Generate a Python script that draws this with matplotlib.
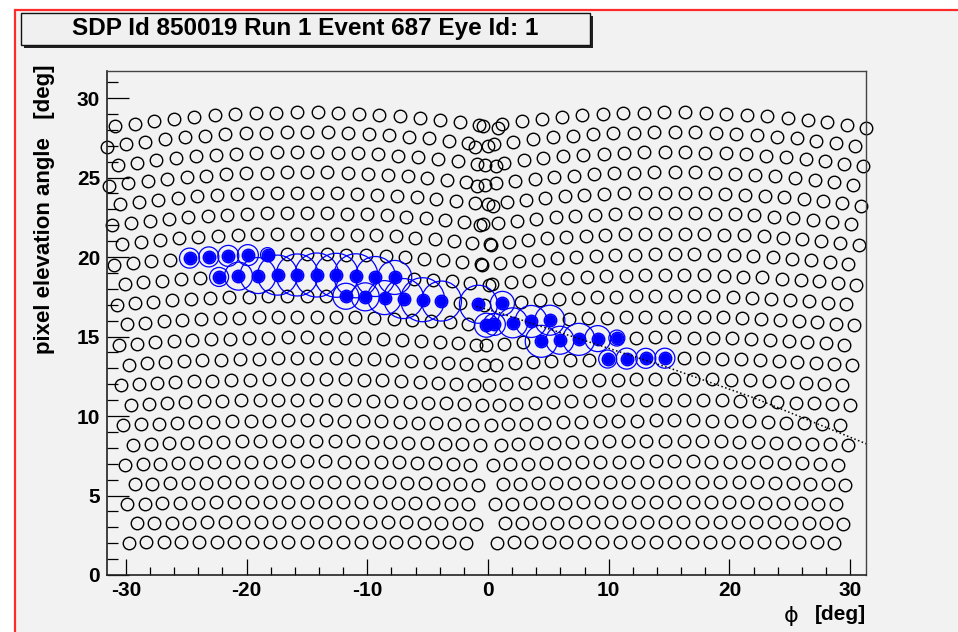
import numpy as np
import matplotlib
matplotlib.use("Agg")
import matplotlib.pyplot as plt
from matplotlib.patches import Rectangle
from matplotlib.ticker import MultipleLocator

plt.rcParams['axes.unicode_minus'] = False
FONT = ['Liberation Sans', 'DejaVu Sans']

# ---- camera geometry (degrees) ----
n_rows, n_cols = 22, 20
pixel_pitch = 1.54               # horizontal spacing of pixel centres
row_pitch = 1.31                 # vertical spacing of pixel rows
camera_phi = [-15.4, 15.05]      # azimuth of the two camera axes
camera_elev = 15.6               # elevation of the camera axes

# ---- hit pixels: camera (0 = left, 1 = right), row, column, signal ----
hit_cam = [0, 0, 0, 0, 0,
           0, 0, 0, 0, 0, 0, 0, 0, 0, 0,
           0, 0, 0, 0, 0, 0, 0,
           0,
           1,
           1, 1, 1, 1,
           1, 1, 1, 1, 1,
           1, 1, 1, 1]
hit_row = [14, 14, 14, 14, 14,
           13, 13, 13, 13, 13, 13, 13, 13, 13, 13,
           12, 12, 12, 12, 12, 12, 12,
           11,
           12,
           11, 11, 11, 11,
           10, 10, 10, 10, 10,
           9, 9, 9, 9]
hit_col = [4, 5, 6, 7, 8,
           5, 6, 7, 8, 9, 10, 11, 12, 13, 14,
           12, 13, 14, 15, 16, 17, 19,
           19,
           1,
           0, 1, 2, 3,
           3, 4, 5, 6, 7,
           6, 7, 8, 9]
hit_signal = [100, 100, 105, 105, 70,
              95, 140, 180, 200, 210, 220, 220, 220, 200, 170,
              130, 140, 170, 200, 220, 200, 190,
              120,
              120,
              110, 150, 160, 150,
              160, 140, 160, 130, 80,
              90, 105, 100, 100]

# ---- shower-detector-plane track ----
track_phi = [-1.0, 0.9, 15.1, 22.0, 31.34]
track_elev = [16.9, 16.5, 13.0, 11.15, 8.25]

title = "SDP Id 850019 Run 1 Event 687 Eye Id: 1"


def camera_pixels(axis_phi):
    """Pixel centres of a hexagonal camera, projected to (phi, elevation)."""
    d = np.tan(np.radians(pixel_pitch))
    dy = np.tan(np.radians(row_pitch))
    rows = np.arange(n_rows)[:, None]
    cols = np.arange(n_cols)[None, :]
    shift = np.where(rows % 2 == 0, -0.25, 0.25)
    u = (cols - (n_cols - 1) / 2 + shift) * d
    v = (rows - (n_rows - 1) / 2) * dy * np.ones_like(u)
    e0 = np.radians(camera_elev)
    fwd = np.cos(e0) - v * np.sin(e0)
    up = np.sin(e0) + v * np.cos(e0)
    phi = axis_phi + np.degrees(np.arctan2(u, fwd))
    elev = np.degrees(np.arctan2(up, np.hypot(fwd, u)))
    return phi, elev


cams = [camera_pixels(c) for c in camera_phi]

W, H = 958, 632
fig = plt.figure(figsize=(W / 100, H / 100), dpi=100, facecolor='white')
BG = '#f2f2f2'

# canvas with red outline
fig.patches.append(Rectangle((15 / W, -0.2), 1.2, 1.2 - 10 / H, transform=fig.transFigure,
                             facecolor=BG, edgecolor='#ff2a2a', linewidth=1.6, zorder=-10))

ax = fig.add_axes([107 / W, 1 - 575 / H, (866 - 107) / W, (575 - 71) / H], zorder=1)
ax.set_facecolor(BG)

all_phi = np.concatenate([c[0].ravel() for c in cams])
ax.set_xlim(all_phi.min(), all_phi.max())
ax.set_ylim(0, 31.7)

hit_set = set(zip(hit_cam, hit_row, hit_col))
px_phi, px_el = [], []
for ci, (p, e) in enumerate(cams):
    for r in range(n_rows):
        for c in range(n_cols):
            if (ci, r, c) not in hit_set:
                px_phi.append(p[r, c])
                px_el.append(e[r, c])

ax.plot(px_phi, px_el, 'o', ms=9.0, mfc='none', mec='black', mew=1.0,
        clip_on=False, zorder=2)

h_phi = np.array([cams[c][0][r, k] for c, r, k in zip(hit_cam, hit_row, hit_col)])
h_el = np.array([cams[c][1][r, k] for c, r, k in zip(hit_cam, hit_row, hit_col)])
sig = np.array(hit_signal, dtype=float)

# signal rings: radius in pixels = signal / 10
ring_pt = 2 * (sig / 10.0) * 72 / 100
ax.scatter(h_phi, h_el, s=ring_pt ** 2, facecolors='none', edgecolors='#0000ff',
           linewidths=0.9, zorder=3)
ax.plot(h_phi, h_el, 'o', ms=9.0, mfc='none', mec='#0000ff', mew=1.0, zorder=3)
ax.plot(h_phi, h_el, 'o', ms=7.8, mfc='#0000ff', mec='#0000ff', mew=0.5, zorder=4)

# track
ax.plot(track_phi, track_elev, color='black', lw=1.1, ls=(0, (1, 1.6)), zorder=5)

# axes styling
ax.xaxis.set_major_locator(MultipleLocator(10))
ax.xaxis.set_minor_locator(MultipleLocator(2))
ax.yaxis.set_major_locator(MultipleLocator(5))
ax.yaxis.set_minor_locator(MultipleLocator(1))
ax.tick_params(axis='x', which='major', direction='in', length=11.5, width=0.9, pad=4,
               top=False, labelsize=15)
ax.tick_params(axis='x', which='minor', direction='in', length=5.8, width=0.9, top=False)
ax.tick_params(axis='y', which='major', direction='in', length=16, width=0.9, pad=5,
               right=False, labelsize=15)
ax.tick_params(axis='y', which='minor', direction='in', length=8, width=0.9, right=False)
for lab in ax.get_xticklabels() + ax.get_yticklabels():
    lab.set_family(FONT)
    lab.set_fontweight('bold')
for side in ('left', 'bottom'):
    ax.spines[side].set_linewidth(1.2)
    ax.spines[side].set_color('#222222')
for side in ('top', 'right'):
    ax.spines[side].set_linewidth(1.0)
    ax.spines[side].set_color('#444444')

fig.text(45 / W, 1 - 65 / H, 'pixel elevation angle   [deg]', rotation=90,
         ha='center', va='top', fontsize=16, fontweight='bold', family=FONT)
fig.text(866 / W, 1 - 615 / H, '[deg]', ha='right', va='center',
         fontsize=15, fontweight='bold', family=FONT)
fig.text(791 / W, 1 - 616 / H, '\u03d5', ha='center', va='center',
         fontsize=16, fontweight='normal', family=['DejaVu Sans'])

# title box with shadow
fig.patches.append(Rectangle((24 / W, 1 - 48 / H), 569 / W, 32 / H, transform=fig.transFigure,
                             facecolor='#202020', edgecolor='none', zorder=5))
fig.patches.append(Rectangle((21 / W, 1 - 45 / H), 569 / W, 32 / H, transform=fig.transFigure,
                             facecolor='#f0f0f0', edgecolor='#111111', linewidth=1.0, zorder=6))
fig.text(305 / W, 1 - 29 / H, title, ha='center', va='center', fontsize=17.5,
         fontweight='bold', family=FONT, zorder=7)

fig.savefig('out.png', dpi=100, facecolor=fig.get_facecolor())
